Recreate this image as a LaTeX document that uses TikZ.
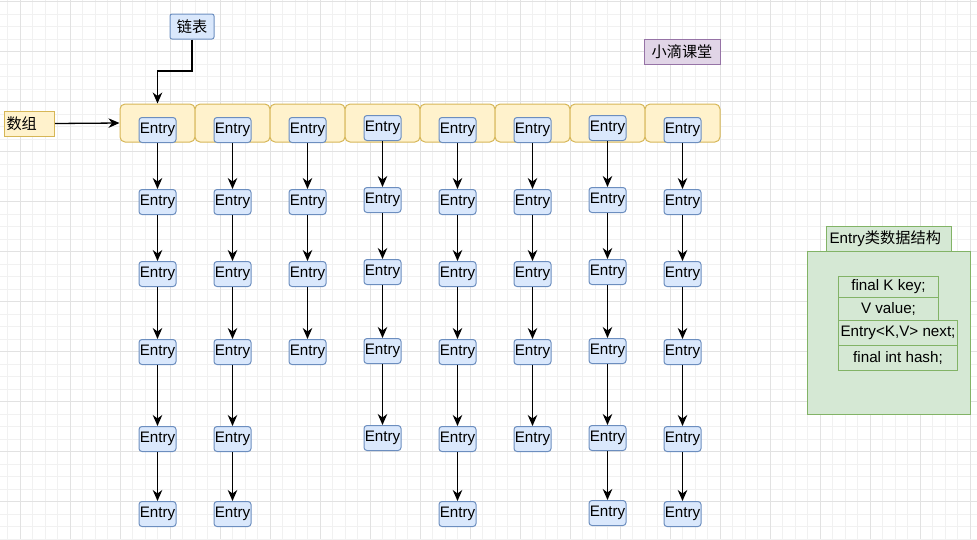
\documentclass[tikz,border=0pt]{standalone}
\usepackage{fontspec}
\setmainfont{Liberation Sans}
\newfontfamily\cjk{Noto Sans CJK SC}
\usetikzlibrary{arrows.meta}
\definecolor{yfill}{HTML}{FFF2CC}\definecolor{ydraw}{HTML}{D6B656}
\definecolor{bfill}{HTML}{DAE8FC}\definecolor{bdraw}{HTML}{6C8EBF}
\definecolor{gfill}{HTML}{D5E8D4}\definecolor{gdraw}{HTML}{82B366}
\definecolor{pfill}{HTML}{E1D5E7}\definecolor{pdraw}{HTML}{9673A6}
\definecolor{gridminor}{HTML}{F1F1F1}\definecolor{gridmajor}{HTML}{E2E2E2}
\tikzset{
  base/.style={font=\fontsize{15.2}{17}\selectfont, inner sep=0pt, line width=1pt},
  entry/.style={base, draw=bdraw, fill=bfill, rounded corners=3pt, minimum width=37pt, minimum height=25pt},
  arraybox/.style={base, draw=ydraw, fill=yfill, rounded corners=5pt, minimum width=75pt, minimum height=38pt},
  label/.style={base, rounded corners=2pt, minimum height=25pt},
  gbox/.style={base, draw=gdraw, fill=gfill},
  arr/.style={line width=1.3pt, -{Stealth[length=11pt,width=9.5pt,inset=3.5pt]}},
}
\begin{document}
\begin{tikzpicture}[x=1pt,y=-1pt]
\useasboundingbox (0,0) rectangle (977,539);
% grid
\foreach \i in {0,...,80} {
  \draw[gridminor, line width=0.9pt] (7.5+12.5*\i,0) -- (7.5+12.5*\i,539);
}
\foreach \i in {0,...,43} {
  \draw[gridminor, line width=0.9pt] (0,1.7+12.5*\i) -- (977,1.7+12.5*\i);
}
\foreach \i in {0,...,19} {
  \draw[gridmajor, line width=0.9pt] (20+50*\i,0) -- (20+50*\i,539);
}
\foreach \i in {0,...,10} {
  \draw[gridmajor, line width=0.9pt] (0,1.7+50*\i) -- (977,1.7+50*\i);
}
% array boxes
\foreach \c in {1,...,8} {
  \node[arraybox] (a\c) at (157.5+75*\c-75,123) {};
}
% entries
\foreach \c/\ys in {1/{130,202,274,352,439,514},2/{130,202,274,352,439,514},3/{130,202,274,352},4/{128,200,272,351,438},5/{130,202,274,352,439,514},6/{130,202,274,352,439},7/{128,200,272,351,438,513},8/{130,202,274,352,439,514}} {
  \foreach \y [count=\r, remember=\r as \p (initially 0)] in \ys {
    \node[entry] (e\c-\r) at (157.5+75*\c-75,\y) {Entry};
    \ifnum\r>1
      \draw[arr] (e\c-\p.south) -- (e\c-\r.north);
    \fi
  }
}
% labels
\node[label, draw=ydraw, fill=yfill, rounded corners=0pt, text width=46pt, align=left, inner xsep=2pt, anchor=west] (arrlab) at (4,123.5) {\cjk 数组};
\node[label, draw=bdraw, fill=bfill, minimum width=44pt] (link) at (192,26.5) {\cjk 链表};
\node[label, draw=pdraw, fill=pfill, rounded corners=0pt, minimum width=76pt] (brand) at (682,51.5) {\cjk 小滴课堂};
\coordinate (bend) at (192,71);
\draw[arr] (link.south) -- (bend) -| (a1.north);
\draw[arr] (arrlab.east) -- (a1.west);
% Entry structure
\node[gbox, minimum width=163pt, minimum height=163pt, anchor=north west] (sbox) at (807,251) {};
\node[gbox, minimum width=125pt, minimum height=25pt, anchor=north west] (shead) at (826,226) {};
\node[base, anchor=west] (sheadt) at (829,238.5) {Entry{\cjk 类数据结构}};
\node[gbox, minimum width=100pt, minimum height=21pt, anchor=north west] (f1) at (838,276) {final K key;};
\node[gbox, minimum width=100pt, minimum height=23pt, anchor=north west] (f2) at (838,297) {V value;};
\node[gbox, minimum width=119pt, minimum height=25pt, anchor=north west] (f3) at (838,320) {Entry<K,V> next;};
\node[gbox, minimum width=119pt, minimum height=25pt, anchor=north west] (f4) at (838,345) {final int hash;};
\end{tikzpicture}
\end{document}
